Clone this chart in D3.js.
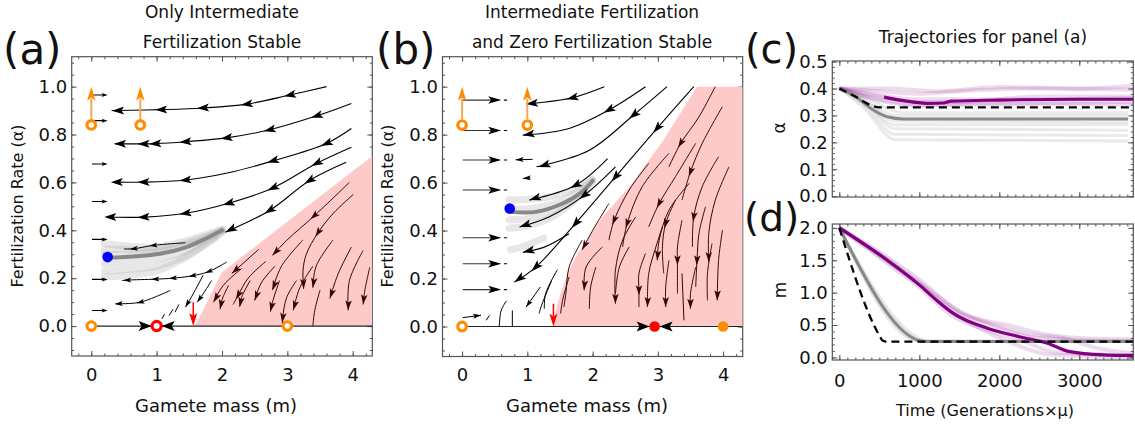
<!DOCTYPE html>
<html><head><meta charset="utf-8">
<script src="https://cdn.jsdelivr.net/npm/d3@7"></script>
<style>body{margin:0;background:#fff}svg{display:block}</style>
</head><body>
<script>
// ---------------- DATA ----------------
// Panel (a): streamlines in white region [m, alpha]; a = indices of arrowheads
const aWhite = [
 {p:[[3.60,1.00],[3.04,0.965],[2.38,0.927],[1.71,0.911],[1.07,0.904],[0.41,0.900],[0.31,0.90]], a:[1,2,3,4,5]},
 {p:[[3.98,0.93],[3.45,0.878],[2.73,0.82],[2.07,0.786],[1.44,0.77],[0.98,0.762],[0.80,0.761],[0.44,0.761],[0.36,0.761]], a:[1,2,3,4,5,6,7]},
 {p:[[3.98,0.825],[3.60,0.763],[2.78,0.69],[2.10,0.64],[1.44,0.61],[0.80,0.601],[0.39,0.601],[0.34,0.60]], a:[1,2,4,5,6]},
 {p:[[3.98,0.747],[3.45,0.68],[2.78,0.577],[2.10,0.513],[1.44,0.471],[0.80,0.455],[0.29,0.455],[0.24,0.455]], a:[1,2,3,4,5,6]},
 {p:[[3.90,0.684],[3.34,0.608],[2.73,0.483],[2.05,0.392]], a:[1,2,3]}
];
const aSmall = [
 {p:[[1.44,0.348],[0.95,0.337],[0.65,0.323],[0.50,0.322]], a:[1,2]},
 {p:[[2.07,0.267],[1.80,0.228],[1.55,0.21],[1.25,0.2],[0.98,0.196],[0.55,0.192],[0.47,0.19]], a:[1,2,3,4,5]},
 {p:[[1.21,0.149],[0.75,0.10],[0.42,0.093],[0.37,0.093]], a:[1,2]},
 {p:[[1.84,0.19],[1.70,0.13],[1.62,0.10]], a:[2]},
 {p:[[1.71,0.212],[1.55,0.13],[1.44,0.079]], a:[2]},
 {p:[[1.12,0.05],[1.08,0.03]], a:[]},
 {p:[[1.25,0.07],[1.19,0.044]], a:[]},
 {p:[[1.34,0.09],[1.28,0.058]], a:[]}
];
const aPink = [
 {p:[[3.95,0.60],[3.41,0.46],[2.99,0.358],[2.77,0.295]], a:[1,3]},
 {p:[[4.01,0.55],[3.70,0.47],[3.47,0.39],[3.29,0.30],[3.24,0.232],[3.25,0.155]], a:[2,5]},
 {p:[[2.56,0.32],[2.15,0.22]], a:[1]},
 {p:[[2.67,0.27],[2.40,0.20],[2.25,0.13],[2.17,0.09]], a:[2]},
 {p:[[2.30,0.24],[2.02,0.17],[1.87,0.10]], a:[2]},
 {p:[[2.10,0.17],[2.00,0.11],[1.97,0.07]], a:[2]},
 {p:[[2.81,0.25],[2.60,0.18],[2.50,0.107]], a:[2]},
 {p:[[3.24,0.36],[2.91,0.25],[2.77,0.15]], a:[2]},
 {p:[[3.70,0.36],[3.44,0.25],[3.39,0.16]], a:[2]},
 {p:[[3.98,0.33],[3.78,0.22],[3.65,0.115]], a:[2]},
 {p:[[4.16,0.316],[3.95,0.19],[3.93,0.066]], a:[2]},
 {p:[[4.26,0.245],[4.18,0.14],[4.16,0.09]], a:[2]},
 {p:[[3.39,0.25],[3.19,0.16],[3.09,0.066]], a:[2]},
 {p:[[3.14,0.19],[2.99,0.12],[2.93,0.035],[2.93,0.0]], a:[2]},
 {p:[[3.50,0.15],[3.42,0.066],[3.39,0.0]], a:[]},
 {p:[[2.88,0.19],[2.78,0.107],[2.74,0.06]], a:[2]},
 {p:[[2.43,0.19],[2.30,0.12],[2.27,0.08]], a:[2]}
];
const aRightAlpha = [0.965,0.858,0.677,0.52,0.362,0.195,0.065];
const aRegion = [[1.58,0],[1.72,0.07],[1.86,0.15],[2.0,0.225],[4.3,0.71],[4.3,0]];
const aTrail = [[2.0,0.40],[1.77,0.368],[1.46,0.33],[1.05,0.302],[0.25,0.285]];
const aCloud = [
 [[2.0,0.405],[1.5,0.36],[1.0,0.33],[0.5,0.335],[0.2,0.345]],
 [[2.0,0.40],[1.5,0.34],[1.0,0.31],[0.5,0.30],[0.2,0.30]],
 [[2.0,0.395],[1.5,0.32],[1.0,0.28],[0.5,0.265],[0.2,0.26]],
 [[2.0,0.39],[1.5,0.30],[1.0,0.25],[0.5,0.235],[0.2,0.23]],
 [[1.9,0.37],[1.4,0.28],[1.0,0.23],[0.5,0.21],[0.2,0.205]],
 [[2.0,0.40],[1.5,0.35],[1.0,0.32],[0.5,0.32],[0.2,0.32]]
];
const aOpen = [[0,0],[3,0],[0,0.84],[0.75,0.84]];
const aUnstable = [[1,0]];
const aBlue = [0.25,0.288];
const aRedArrow = [1.56,0.10];

// Panel (b)
const bWhite = [
 {p:[[2.18,1.0],[1.69,0.954],[1.18,0.933],[0.98,0.928]], a:[1,3]},
 {p:[[2.81,1.0],[2.25,0.903],[1.64,0.826],[0.93,0.798]], a:[1,3]},
 {p:[[3.14,1.0],[2.63,0.882],[1.95,0.735],[1.26,0.673],[1.14,0.666]], a:[1,3]},
 {p:[[3.55,1.0],[2.99,0.827],[2.35,0.624],[1.74,0.43],[1.13,0.248],[0.80,0.185]], a:[1,2,3,4,5]},
 {p:[[2.23,0.70],[1.74,0.589],[1.03,0.527]], a:[1,2]},
 {p:[[2.35,0.666],[1.87,0.547],[1.33,0.457],[0.88,0.415]], a:[1,3]},
 {p:[[1.64,0.387],[1.25,0.33],[0.93,0.31]], a:[2]}
];
const bSmall = [
 {p:[[1.08,0.697],[0.82,0.695]], a:[1]},
 {p:[[1.05,0.62],[0.93,0.617]], a:[1]},
 {p:[[1.46,0.237],[1.28,0.137],[1.26,0.074]], a:[]},
 {p:[[1.37,0.19],[1.22,0.09],[1.18,0.054]], a:[]},
 {p:[[1.20,0.165],[0.98,0.081]], a:[1]},
 {p:[[0.68,0.107],[0.60,0.068],[0.57,0.0]], a:[]},
 {p:[[0.77,0.067],[0.77,0.0]], a:[]},
 {p:[[0.37,0.026],[0.42,0.047]], a:[]},
 {p:[[0.01,0.037],[0.29,0.047]], a:[1]}
];
const bPink = [
 {p:[[3.88,1.0],[3.62,0.87],[3.35,0.764],[3.17,0.666]], a:[2]},
 {p:[[3.99,0.917],[3.68,0.764],[3.50,0.645],[3.37,0.527]], a:[2]},
 {p:[[3.58,0.764],[3.27,0.625],[3.02,0.513],[2.86,0.416]], a:[2]},
 {p:[[3.17,0.722],[2.76,0.583],[2.53,0.430],[2.46,0.332]], a:[2]},
 {p:[[2.86,0.680],[2.56,0.569],[2.33,0.443],[2.25,0.36]], a:[2]},
 {p:[[3.48,0.597],[3.17,0.485],[3.02,0.36],[2.99,0.276]], a:[3]},
 {p:[[3.93,0.708],[3.68,0.583],[3.55,0.457],[3.53,0.332]], a:[2]},
 {p:[[4.09,0.666],[3.88,0.527],[3.78,0.388],[3.78,0.269]], a:[3]},
 {p:[[3.99,0.402],[3.93,0.276],[3.91,0.109]], a:[2]},
 {p:[[3.73,0.499],[3.63,0.388],[3.60,0.276],[3.58,0.165]], a:[2]},
 {p:[[3.37,0.443],[3.30,0.332],[3.30,0.276],[3.30,0.137]], a:[2]},
 {p:[[3.27,0.527],[3.12,0.430],[3.07,0.332],[3.09,0.221]], a:[1]},
 {p:[[3.07,0.416],[2.97,0.332],[2.86,0.221],[2.84,0.081]], a:[3]},
 {p:[[2.66,0.457],[2.46,0.360],[2.35,0.235],[2.35,0.095]], a:[3]},
 {p:[[2.25,0.513],[2.00,0.40],[1.84,0.32]], a:[2]},
 {p:[[2.15,0.332],[1.90,0.248],[1.87,0.151]], a:[2]},
 {p:[[2.56,0.332],[2.41,0.248],[2.35,0.137]], a:[]},
 {p:[[2.81,0.304],[2.71,0.221],[2.71,0.151],[2.71,0.081]], a:[2]},
 {p:[[1.84,0.36],[1.64,0.248],[1.59,0.137],[1.56,0.081]], a:[]},
 {p:[[2.05,0.248],[1.97,0.165],[1.95,0.074]], a:[]},
 {p:[[3.17,0.276],[3.12,0.165],[3.12,0.081]], a:[2]},
 {p:[[3.58,0.248],[3.50,0.137],[3.50,0.074]], a:[2]},
 {p:[[3.83,0.346],[3.76,0.221],[3.76,0.109]], a:[]},
 {p:[[3.37,0.221],[3.40,0.026]], a:[]},
 {p:[[1.64,0.207],[1.54,0.109],[1.51,0.054]], a:[]}
];
const bRightAlpha = [0.944,0.817,0.694,0.569,0.37,0.262,0.154];
const bRegion = [[1.40,0],[1.44,0.07],[1.51,0.14],[1.62,0.22],[1.74,0.29],[2.15,0.457],[2.56,0.582],[3.07,0.77],[3.60,1.0],[4.3,1.0],[4.3,0]];
const bTrail = [[2.0,0.608],[1.84,0.562],[1.54,0.513],[1.13,0.478],[0.73,0.478]];
const bCloud = [
 [[2.0,0.615],[1.5,0.55],[1.0,0.53],[0.72,0.53]],
 [[2.0,0.61],[1.5,0.52],[1.0,0.49],[0.72,0.49]],
 [[2.0,0.60],[1.5,0.49],[1.0,0.45],[0.72,0.445]],
 [[1.9,0.57],[1.4,0.46],[1.0,0.42],[0.72,0.41]],
 [[1.25,0.37],[1.0,0.34],[0.74,0.32]]
];
const bOpen = [[0,0],[0,0.84],[1.0,0.84]];
const bOrangeFilled = [[4,0]];
const bRedFilled = [[2.95,0]];
const bBlue = [0.73,0.492];
const bRedArrow = [1.40,0.095];

// Panels (c) and (d): time vs alpha and vs m
const cDashed = [[0,0.40],[200,0.37],[400,0.337],[500,0.33],[3675,0.33]];
const cGray = [[0,0.40],[200,0.37],[400,0.325],[600,0.295],[800,0.287],[3610,0.287]];
const cPurple = [[560,0.368],[800,0.355],[1100,0.345],[1300,0.346],[1400,0.353],[2000,0.357],[3000,0.36],[3675,0.36]];
const cGrayCloud = [
 [[0,0.40],[300,0.33],[700,0.21],[3610,0.205]],
 [[0,0.40],[300,0.34],[700,0.23],[3610,0.225]],
 [[0,0.40],[300,0.35],[700,0.25],[3610,0.245]],
 [[0,0.40],[300,0.35],[700,0.265],[3610,0.265]],
 [[0,0.40],[300,0.36],[700,0.28],[3610,0.275]],
 [[0,0.40],[300,0.36],[700,0.30],[3610,0.30]],
 [[0,0.40],[300,0.37],[800,0.31],[3610,0.31]]
];
const cPurpleCloud = [
 [[0,0.40],[500,0.39],[1000,0.38],[1500,0.39],[2500,0.40],[3675,0.395]],
 [[0,0.40],[500,0.37],[1000,0.35],[1500,0.35],[2500,0.37],[3675,0.37]],
 [[0,0.40],[500,0.36],[1000,0.34],[1500,0.34],[2500,0.345],[3675,0.35]],
 [[0,0.40],[400,0.38],[900,0.36],[1600,0.36],[2500,0.36],[3675,0.365]],
 [[0,0.40],[600,0.40],[1200,0.39],[2000,0.405],[3000,0.40],[3675,0.41]],
 [[0,0.40],[500,0.355],[1000,0.335],[1800,0.345],[3675,0.34]]
];
const dDashed = [[0,2.0],[500,0.34],[540,0.26],[580,0.245],[3675,0.245]];
const dGray = [[0,2.0],[1075,0.245],[3675,0.245]];
const dPurple = [[0,2.0],[600,1.5],[1000,1.12],[1200,0.9],[1425,0.68],[1850,0.45],[2250,0.32],[2600,0.22],[2880,0.09],[3300,0.04],[3675,0.03]];
const dGrayCloud = [
 [[0,2.0],[1000,0.25],[3675,0.25]],
 [[0,2.0],[1040,0.25],[3675,0.25]],
 [[0,2.0],[1110,0.25],[3675,0.25]],
 [[0,2.0],[1160,0.25],[3675,0.25]]
];
const dPurpleCloud = [
 [[0,2.0],[600,1.55],[1000,1.2],[1500,0.7],[2000,0.45],[2500,0.3],[3000,0.27],[3675,0.25]],
 [[0,2.0],[600,1.45],[1000,1.08],[1400,0.65],[1900,0.40],[2300,0.25],[2700,0.08],[3675,0.03]],
 [[0,2.0],[600,1.52],[1000,1.16],[1500,0.72],[2000,0.48],[2400,0.35],[2800,0.3],[3200,0.15],[3675,0.06]],
 [[0,2.0],[600,1.48],[1000,1.12],[1450,0.66],[1800,0.42],[2200,0.2],[2600,0.05],[3675,0.0]],
 [[0,2.0],[600,1.5],[1000,1.13],[1500,0.68],[2100,0.5],[2600,0.35],[3000,0.3],[3675,0.28]]
];

// tick labels
const xTicksAB = [0,1,2,3,4];
const yTicksAB = [0,0.2,0.4,0.6,0.8,1.0];
const tTicks = [0,1000,2000,3000];
const cTicks = [0,0.1,0.2,0.3,0.4,0.5];
const dTicks = [0,0.5,1.0,1.5,2.0];

// ---------------- DRAWING ----------------
const FONT = "'DejaVu Sans', sans-serif";
const svg = d3.select('body').append('svg').attr('width',1135).attr('height',428).style('font-family',FONT);

const xA = d3.scaleLinear().domain([-0.3,4.3]).range([71.7,372.3]);
const yA = d3.scaleLinear().domain([-0.125,1.125]).range([356,56.7]);
const xB = d3.scaleLinear().domain([-0.3,4.3]).range([442.5,742.7]);
const yB = d3.scaleLinear().domain([-0.125,1.125]).range([356.5,56.7]);
const xC = d3.scaleLinear().domain([-88,3675]).range([832.3,1133.3]);
const yC = d3.scaleLinear().domain([-0.003,0.502]).range([197,61]);
const yD = d3.scaleLinear().domain([-0.04,2.06]).range([360,224]);

const PINK = '#fdc9c9', MAROON = '#3a0505', ORANGE = '#ff8c00', FRAME = '#555';

function clipG(id,x,y){
  svg.append('clipPath').attr('id',id).append('rect')
    .attr('x',x.range()[0]).attr('y',y.range()[1])
    .attr('width',x.range()[1]-x.range()[0]).attr('height',y.range()[0]-y.range()[1]);
  return svg.append('g').attr('clip-path',`url(#${id})`);
}

function head(g,tx,ty,ang,L,Wd,color){
  const pts=[[0,0],[-L,Wd/2],[-L*0.78,0],[-L,-Wd/2]];
  g.append('path').attr('d','M'+pts.map(p=>p.join(',')).join('L')+'Z')
    .attr('fill',color).attr('transform',`translate(${tx},${ty}) rotate(${ang*180/Math.PI})`);
}

function streams(g,x,y,list,color,L,Wd,sw){
  const ln=d3.line().x(d=>x(d[0])).y(d=>y(d[1])).curve(d3.curveCatmullRom.alpha(0.5));
  list.forEach(s=>{
    g.append('path').attr('d',ln(s.p)).attr('fill','none').attr('stroke',color).attr('stroke-width',sw);
    const P=s.p.map(d=>[x(d[0]),y(d[1])]);
    s.a.forEach(i=>{
      const a=P[Math.max(0,i-1)], b=P[Math.min(P.length-1,i+1)];
      const ang=Math.atan2(b[1]-a[1],b[0]-a[0]);
      const end=i===P.length-1, off=end?0:L*0.5;
      head(g,P[i][0]+Math.cos(ang)*off,P[i][1]+Math.sin(ang)*off,ang,L,Wd,color);
    });
  });
}

function axes(x,y,xMaj,xMin,yMaj,yMin,xFmt,yFmt,bPad){
  const g=svg.append('g');
  const [x0,x1]=x.range(), [yb,yt]=y.range();
  function put(axisFn,scale,vals,len,fmt,tr,pad){
    const ax=axisFn(scale).tickValues(vals).tickSizeInner(-len).tickSizeOuter(0).tickPadding(pad||6).tickFormat(fmt||(()=>''));
    const gg=g.append('g').attr('transform',tr).call(ax);
    gg.select('.domain').remove();
    gg.selectAll('line').attr('stroke',FRAME).attr('stroke-width',1);
    gg.selectAll('text').attr('font-size',18).attr('fill','#111').attr('font-family',FONT);
  }
  put(d3.axisBottom,x,xMaj,5,xFmt,`translate(0,${yb})`,bPad);
  put(d3.axisBottom,x,xMin,2.5,null,`translate(0,${yb})`);
  put(d3.axisTop,x,xMaj,5,null,`translate(0,${yt})`);
  put(d3.axisTop,x,xMin,2.5,null,`translate(0,${yt})`);
  put(d3.axisLeft,y,yMaj,5,yFmt,`translate(${x0},0)`,4.5);
  put(d3.axisLeft,y,yMin,2.5,null,`translate(${x0},0)`);
  put(d3.axisRight,y,yMaj,5,null,`translate(${x1},0)`);
  put(d3.axisRight,y,yMin,2.5,null,`translate(${x1},0)`);
  g.append('rect').attr('x',x0).attr('y',yt).attr('width',x1-x0).attr('height',yb-yt)
    .attr('fill','none').attr('stroke',FRAME).attr('stroke-width',1.2);
}

function phasePanel(id,x,y,region,cloud,trail,white,small,pink,rightAlpha,rightEnd,bigRight){
  const g=clipG(id,x,y);
  const area=d3.line().x(d=>x(d[0])).y(d=>y(d[1]));
  g.append('path').attr('d',area(region)+'Z').attr('fill',PINK);
  const cl=d3.line().x(d=>x(d[0])).y(d=>y(d[1])).curve(d3.curveCatmullRom.alpha(0.5));
  cloud.forEach(c=>g.append('path').attr('d',cl(c)).attr('fill','none').attr('stroke','#aaa')
      .attr('stroke-opacity',0.28).attr('stroke-width',7).attr('stroke-linecap','round'));
  g.append('path').attr('d',cl(trail)).attr('fill','none').attr('stroke','#888').attr('stroke-width',4).attr('stroke-linecap','round');
  streams(g,x,y,white,'#000',12,8,1.1);
  streams(g,x,y,small,'#000',8,5,1.0);
  streams(g,x,y,pink,MAROON,10,6.5,1.0);
  rightAlpha.forEach(a=>{
    g.append('line').attr('x1',x(0.01)).attr('x2',x(rightEnd)-2).attr('y1',y(a)).attr('y2',y(a))
      .attr('stroke',bigRight?'#333':'#000').attr('stroke-width',1.1);
    head(g,x(rightEnd),y(a),0,bigRight?13:6,bigRight?7.5:4,'#000');
  });
  g.append('line').attr('x1',x(0)).attr('x2',x(4.3)).attr('y1',y(0)).attr('y2',y(0)).attr('stroke','#222').attr('stroke-width',1.2);
  return g;
}

// ----- panel (a)
axes(xA,yA,xTicksAB,d3.range(-0.2,4.3,0.2),yTicksAB,d3.range(-0.1,1.11,0.05),d3.format('d'),d3.format('.1f'),12);
const gA=phasePanel('ca',xA,yA,aRegion,aCloud,aTrail,aWhite,aSmall,aPink,aRightAlpha,0.25,false);
// ----- panel (b)
axes(xB,yB,xTicksAB,d3.range(-0.2,4.3,0.2),yTicksAB,d3.range(-0.1,1.11,0.05),d3.format('d'),d3.format('.1f'),12);
const gB=phasePanel('cb',xB,yB,bRegion,bCloud,bTrail,bWhite,bSmall,bPink,bRightAlpha,0.60,true);
bRightAlpha.forEach(a=>{
  gB.append('line').attr('x1',xB(0.64)).attr('x2',xB(0.69)).attr('y1',yB(a)).attr('y2',yB(a)).attr('stroke','#000').attr('stroke-width',1.1);
});

function markers(g,x,y,open,blue,redArrow,orangeArrows){
  orangeArrows.forEach(d=>{
    g.append('line').attr('x1',x(d[0])).attr('x2',x(d[0])).attr('y1',y(d[1])-6).attr('y2',y(1.0)+12)
      .attr('stroke','#f6a65a').attr('stroke-width',2);
    head(g,x(d[0]),y(1.0),-Math.PI/2,14,8.5,ORANGE);
  });
  open.forEach(d=>g.append('circle').attr('cx',x(d[0])).attr('cy',y(d[1])).attr('r',4.3)
      .attr('fill','#fff').attr('stroke',ORANGE).attr('stroke-width',3.2));
  g.append('line').attr('x1',x(redArrow[0])).attr('x2',x(redArrow[0])).attr('y1',y(redArrow[1])).attr('y2',y(0)-10)
    .attr('stroke','#f00').attr('stroke-width',1.5);
  head(g,x(redArrow[0]),y(0),Math.PI/2,13,8,'#f00');
  g.append('circle').attr('cx',x(blue[0])).attr('cy',y(blue[1])).attr('r',5.3).attr('fill','#0000ff');
}
function bowtie(g,x,y,m){
  head(g,x(m)-5,y(0),0,13,10,'#000');
  head(g,x(m)+5,y(0),Math.PI,13,10,'#000');
}
const gAm=svg.append('g');
bowtie(gAm,xA,yA,aUnstable[0][0]);
markers(gAm,xA,yA,aOpen,aBlue,aRedArrow,aOpen.filter(d=>d[1]>0));
aUnstable.forEach(d=>gAm.append('circle').attr('cx',xA(d[0])).attr('cy',yA(d[1])).attr('r',4.6)
    .attr('fill','#fff').attr('stroke','#f00').attr('stroke-width',3.2));

const gBm=svg.append('g');
bowtie(gBm,xB,yB,bRedFilled[0][0]);
markers(gBm,xB,yB,bOpen,bBlue,bRedArrow,bOpen.filter(d=>d[1]>0));
bRedFilled.forEach(d=>gBm.append('circle').attr('cx',xB(d[0])).attr('cy',yB(d[1])).attr('r',5.3).attr('fill','#f00'));
bOrangeFilled.forEach(d=>gBm.append('circle').attr('cx',xB(d[0])).attr('cy',yB(d[1])).attr('r',5.3).attr('fill',ORANGE));

// ----- panels (c) and (d)
axes(xC,yC,tTicks,d3.range(0,3700,100),cTicks,d3.range(0,0.501,0.02),null,d3.format('.1f'),12);
axes(xC,yD,tTicks,d3.range(0,3700,100),dTicks,d3.range(0,2.01,0.1),d3.format('d'),d3.format('.1f'),14);

function timePanel(id,y,grayCloud,purpleCloud,gray,purple,dashed){
  const g=clipG(id,xC,y);
  const ln=d3.line().x(d=>xC(d[0])).y(d=>y(d[1])).curve(d3.curveMonotoneX);
  grayCloud.forEach(c=>g.append('path').attr('d',ln(c)).attr('fill','none').attr('stroke','#bbb').attr('stroke-opacity',0.3).attr('stroke-width',3));
  purpleCloud.forEach(c=>g.append('path').attr('d',ln(c)).attr('fill','none').attr('stroke','#800080').attr('stroke-opacity',0.14).attr('stroke-width',4));
  g.append('path').attr('d',ln(gray)).attr('fill','none').attr('stroke','#888').attr('stroke-width',3);
  g.append('path').attr('d',ln(purple)).attr('fill','none').attr('stroke','#800080').attr('stroke-width',3.2);
  g.append('path').attr('d',ln(dashed)).attr('fill','none').attr('stroke','#000').attr('stroke-width',2.3).attr('stroke-dasharray','8,5');
}
timePanel('cc',yC,cGrayCloud,cPurpleCloud,cGray,cPurple,cDashed);
timePanel('cd',yD,dGrayCloud,dPurpleCloud,dGray,dPurple,dDashed);

// ----- texts
function txt(x,y,s,size,opts={}){
  const t=svg.append('text').attr('x',x).attr('y',y).text(s).attr('font-size',size).attr('fill','#111')
    .attr('text-anchor',opts.anchor||'middle');
  if(opts.rot) t.attr('transform',`rotate(-90,${x},${y})`);
  return t;
}
txt(222,18,'Only Intermediate',17);
txt(222,48,'Fertilization Stable',17);
txt(592,18,'Intermediate Fertilization',17);
txt(592,48,'and Zero Fertilization Stable',17);
txt(983,43,'Trajectories for panel (a)',17);
txt(3,64,'(a)',42,{anchor:'start'});
txt(376,64,'(b)',42,{anchor:'start'});
txt(745,63,'(c)',40,{anchor:'start'});
txt(744,231,'(d)',39,{anchor:'start'});
txt(23,206,'Fertilization Rate (α)',16,{rot:true});
txt(393,206,'Fertilization Rate (α)',16,{rot:true});
txt(216,412,'Gamete mass (m)',18);
txt(587,412,'Gamete mass (m)',18);
txt(985,416,'Time (Generations×μ)',16);
txt(785,128,'α',17,{rot:true});
txt(786,290,'m',17,{rot:true});
</script>
</body></html>
